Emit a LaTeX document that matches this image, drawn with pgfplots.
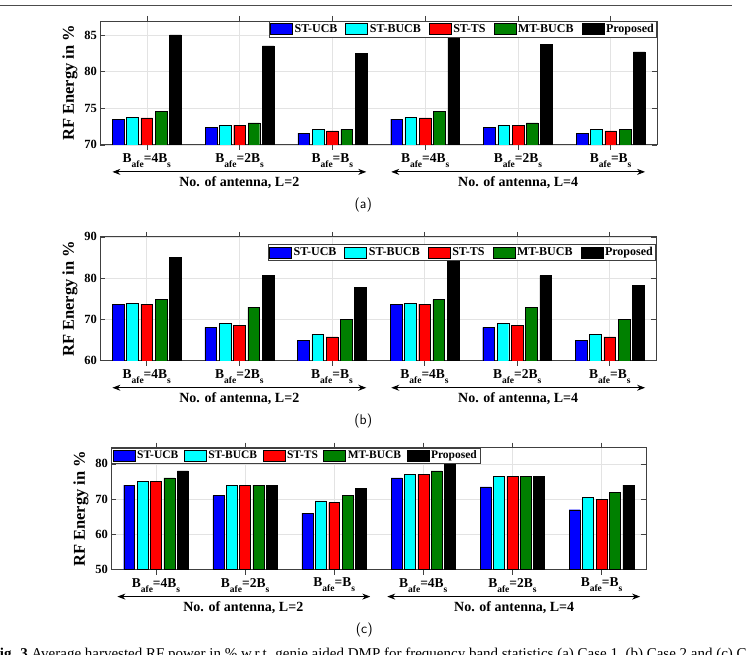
\documentclass[border=0pt]{standalone}
\usepackage{fontspec}
\setmainfont{Liberation Serif}
\usepackage{pgfplots}
\pgfplotsset{compat=1.18}
\usetikzlibrary{arrows.meta}

\definecolor{mblue}{rgb}{0,0,1}
\definecolor{mcyan}{rgb}{0,1,1}
\definecolor{mred}{rgb}{1,0,0}
\definecolor{mgreen}{rgb}{0,0.5,0}
\definecolor{axgray}{gray}{0.25}

\newcommand{\Bl}[1]{B\raisebox{-5pt}{\fontsize{9.5}{9.5}\selectfont afe}=#1B\raisebox{-5pt}{\fontsize{9.5}{9.5}\selectfont s}}

\pgfplotsset{
 rfbar/.style={
   scale only axis,
   xmin=0.5, xmax=6.5,
   xtick={1,...,6},
   xticklabels={\Bl{4},\Bl{2},\Bl{},\Bl{4},\Bl{2},\Bl{}},
   xtick pos=both, ytick pos=both,
   tick align=inside,
   major tick length=5pt,
   axis line style={axgray, line width=0.8pt},
   tick style={axgray, line width=0.6pt},
   grid=major,
   major grid style={gray!22, line width=0.6pt},
   /pgf/number format/assume math mode=true,
   ticklabel style={font=\bfseries\fontsize{12.5}{12.5}\selectfont},
   xticklabel style={font=\bfseries\fontsize{13.5}{13.5}\selectfont},
   ylabel={RF Energy in \%},
   ylabel style={font=\bfseries\fontsize{16.5}{16.5}\selectfont},
   legend columns=5,
   legend style={draw=axgray, fill=white, line width=0.6pt,
     font=\bfseries\fontsize{12}{12}\selectfont, inner sep=1pt,
     /tikz/every even column/.append style={column sep=6pt}},
   every axis plot/.append style={draw=black, line width=0.4pt},
 },
 leg/.style={legend image code/.code={\draw[##1, draw=black, line width=0.5pt] (0pt,-5.5pt) rectangle (22pt,5.5pt);}},
}

\pgfplotstableread{
x ucb bucb ts mt prop
1 73.5 73.8 73.7 74.6 85.0
2 72.4 72.7 72.7 73.0 83.5
3 71.6 72.1 71.9 72.1 82.5
4 73.5 73.8 73.7 74.6 85.0
5 72.4 72.7 72.7 73.0 83.7
6 71.6 72.1 71.9 72.1 82.7
}\dataA
\pgfplotstableread{
x ucb bucb ts mt prop
1 73.6 73.9 73.7 74.8 85.1
2 68.1 69.0 68.5 73.0 80.6
3 65.0 66.4 65.8 70.0 77.7
4 73.6 73.9 73.7 74.8 85.0
5 68.1 69.0 68.5 73.0 80.6
6 65.0 66.4 65.8 70.0 78.2
}\dataB
\pgfplotstableread{
x ucb bucb ts mt prop
1 74.0 75.0 75.0 76.0 78.0
2 71.0 74.0 74.0 74.0 74.0
3 66.0 69.5 69.0 71.0 73.0
4 76.0 77.0 77.0 78.0 80.3
5 73.5 76.5 76.5 76.5 76.5
6 67.0 70.5 70.0 72.0 74.0
}\dataC

\begin{document}
\begin{tikzpicture}[x=1pt,y=1pt]
\path (0,0) rectangle (746,655);
\draw[gray!60!black, line width=1pt] (0,649) -- (732,649);

\tikzset{lab/.style={font=\bfseries\fontsize{14}{14}\selectfont},
  sub/.style={font=\sffamily\fontsize{14}{14}\selectfont},
  arr/.style={{Stealth[length=8pt,width=6pt]}-{Stealth[length=8pt,width=6pt]}, line width=0.9pt}}

% ---------------- (a)
\begin{axis}[rfbar, at={(100pt,510pt)}, anchor=south west,
  width=557pt, height=124pt,
  ybar=2.6pt, bar width=11.7pt,
  ymin=70, ymax=86.9, ytick={70,75,80,85},
  legend style={at={(1,1)}, anchor=north east}, leg]
\addplot[fill=mblue] table[x=x,y=ucb]{\dataA};
\addplot[fill=mcyan] table[x=x,y=bucb]{\dataA};
\addplot[fill=mred] table[x=x,y=ts]{\dataA};
\addplot[fill=mgreen] table[x=x,y=mt]{\dataA};
\addplot[fill=black] table[x=x,y=prop]{\dataA};
\legend{ST-UCB,ST-BUCB,ST-TS,MT-BUCB,Proposed}
\end{axis}
\draw[arr] (112,483) -- (366,483);
\draw[arr] (391,483) -- (645,483);
\node[lab] at (239,472) {No. of antenna, L=2};
\node[lab] at (518,472) {No. of antenna, L=4};
\node[sub] at (363,450) {(a)};

% ---------------- (b)
\begin{axis}[rfbar, at={(100pt,294pt)}, anchor=south west,
  width=556pt, height=124pt,
  ybar=2.6pt, bar width=11.7pt,
  ymin=60, ymax=90, ytick={60,70,80,90},
  legend style={at={(1,0.94)}, anchor=north east}, leg]
\addplot[fill=mblue] table[x=x,y=ucb]{\dataB};
\addplot[fill=mcyan] table[x=x,y=bucb]{\dataB};
\addplot[fill=mred] table[x=x,y=ts]{\dataB};
\addplot[fill=mgreen] table[x=x,y=mt]{\dataB};
\addplot[fill=black] table[x=x,y=prop]{\dataB};
\legend{ST-UCB,ST-BUCB,ST-TS,MT-BUCB,Proposed}
\end{axis}
\draw[arr] (112,267) -- (366,267);
\draw[arr] (391,267) -- (645,267);
\node[lab] at (239,256) {No. of antenna, L=2};
\node[lab] at (518,256) {No. of antenna, L=4};
\node[sub] at (363,234) {(b)};

% ---------------- (c)
\begin{axis}[rfbar, at={(111pt,85pt)}, anchor=south west,
  width=535pt, height=122pt,
  ybar=2.4pt, bar width=11pt,
  ymin=50, ymax=84.6, ytick={50,60,70,80},
  legend style={at={(0,1)}, anchor=north west,
    font=\bfseries\fontsize{11.5}{11.5}\selectfont,
    /tikz/every even column/.append style={column sep=3.5pt}}, leg]
\addplot[fill=mblue] table[x=x,y=ucb]{\dataC};
\addplot[fill=mcyan] table[x=x,y=bucb]{\dataC};
\addplot[fill=mred] table[x=x,y=ts]{\dataC};
\addplot[fill=mgreen] table[x=x,y=mt]{\dataC};
\addplot[fill=black] table[x=x,y=prop]{\dataC};
\legend{ST-UCB,ST-BUCB,ST-TS,MT-BUCB,Proposed}
\end{axis}
\draw[arr] (117,58) -- (370,58);
\draw[arr] (387,58) -- (640,58);
\node[lab] at (243,47) {No. of antenna, L=2};
\node[lab] at (514,47) {No. of antenna, L=4};
\node[sub] at (364,25) {(c)};

\node[overlay, anchor=base west, font=\fontsize{15}{15}\selectfont, inner sep=0pt] at (-10,-4) {\textbf{Fig. 3} Average harvested RF power in \% w.r.t. genie aided DMP for frequency band statistics (a) Case 1, (b) Case 2 and (c) Case 3.};
\end{tikzpicture}
\end{document}
